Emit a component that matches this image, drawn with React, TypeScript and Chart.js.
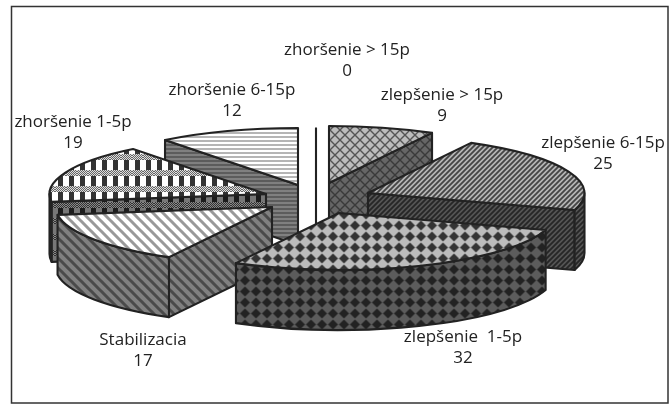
import React, { useEffect, useRef } from "react";
import { Chart, registerables } from "chart.js";

Chart.register(...registerables);

const categories = [
  "zhoršenie > 15p",
  "zlepšenie > 15p",
  "zlepšenie 6-15p",
  "zlepšenie  1-5p",
  "Stabilizacia",
  "zhoršenie 1-5p",
  "zhoršenie 6-15p",
];
const values = [0, 9, 25, 32, 17, 19, 12];

// Presentation only
const explodeDx = [-19, -6, 33, 4, -63, -69, -37];
const explodeDy = [-18, -19.5, -9.5, 10.5, 4.5, -8.5, -17.5];
const labelX = [347, 442, 603, 463, 143, 73, 232];
const labelY = [50, 95, 143, 337, 340, 122, 90];
const paintOrder = [6, 0, 1, 2, 5, 4, 3];

const RX = 216.5;
const RY = 57;
const DEPTH = 60;
const INK = "#222";

function tile(w: number, h: number, draw: (c: CanvasRenderingContext2D) => void, dx = 0, dy = 0) {
  const cv = document.createElement("canvas");
  cv.width = w;
  cv.height = h;
  const c = cv.getContext("2d")!;
  draw(c);
  const p = document.createElement("canvas").getContext("2d")!.createPattern(cv, "repeat")!;
  if (dx || dy) p.setTransform(new DOMMatrix().translate(dx, dy));
  return p;
}

function lattice(bg: string, fg: string) {
  return tile(10, 10, (c) => {
    c.fillStyle = bg;
    c.fillRect(0, 0, 10, 10);
    c.strokeStyle = fg;
    c.lineWidth = 1.4;
    c.beginPath();
    c.moveTo(-1, -1); c.lineTo(11, 11);
    c.moveTo(11, -1); c.lineTo(-1, 11);
    c.stroke();
  });
}
function stripes(size: number, width: number, bg: string, fg: string, forward: boolean) {
  return tile(size, size, (c) => {
    c.fillStyle = bg;
    c.fillRect(0, 0, size, size);
    c.strokeStyle = fg;
    c.lineWidth = width;
    c.beginPath();
    for (let k = -1; k <= 1; k++) {
      if (forward) {
        c.moveTo(k * size - 1, size + 1);
        c.lineTo(k * size + size + 1, -1);
      } else {
        c.moveTo(k * size - 1, -1);
        c.lineTo(k * size + size + 1, size + 1);
      }
    }
    c.stroke();
  });
}
function diamonds(bg: string, fg: string) {
  return tile(11, 11, (c) => {
    c.fillStyle = bg;
    c.fillRect(0, 0, 11, 11);
    c.fillStyle = fg;
    c.beginPath();
    c.moveTo(5.5, 0.5); c.lineTo(10.5, 5.5); c.lineTo(5.5, 10.5); c.lineTo(0.5, 5.5);
    c.closePath();
    c.fill();
  }, -2.5, 0);
}
function plaid(a: string, b: string, c1: string, c2: string) {
  return tile(11, 16, (c) => {
    c.fillStyle = a;
    c.fillRect(0, 0, 11, 16);
    c.fillStyle = b;
    c.fillRect(3, 0, 5, 16);
    for (let y = 10; y < 16; y++) {
      for (let x = 0; x < 11; x++) {
        c.fillStyle = (x + y) % 2 ? c1 : c2;
        c.fillRect(x, y, 1, 1);
      }
    }
  });
}
function hlines(bg: string, fg: string) {
  return tile(4, 4, (c) => {
    c.fillStyle = bg;
    c.fillRect(0, 0, 4, 4);
    c.fillStyle = fg;
    c.fillRect(0, 0, 4, 2);
  });
}

const pie3d = {
  id: "pie3d",
  beforeDraw(chart: any) {
    const c = chart.ctx as CanvasRenderingContext2D;
    c.save();
    c.fillStyle = "#fff";
    c.fillRect(0, 0, chart.width, chart.height);
    c.strokeStyle = "#333";
    c.lineWidth = 1.5;
    c.strokeRect(11.5, 6.5, 656.5, 396.5);
    c.restore();
  },
  afterDatasetsDraw(chart: any) {
    const c = chart.ctx as CanvasRenderingContext2D;
    const arcs = chart.getDatasetMeta(0).data;
    const topFill: any[] = [
      "#fff",
      lattice("#bdbdbd", "#555"),
      stripes(5, 1.8, "#b5b5b5", "#444", true),
      diamonds("#bcbcbc", "#333"),
      stripes(10, 3, "#fff", "#999", false),
      plaid("#fff", "#333", "#666", "#ddd"),
      hlines("#fff", "#b5b5b5"),
    ];
    const sideFill: any[] = [
      "#fff",
      lattice("#666", "#3a3a3a"),
      stripes(5, 1.8, "#555", "#262626", true),
      diamonds("#5c5c5c", "#222"),
      stripes(10, 3, "#808080", "#4a4a4a", false),
      plaid("#777", "#1c1c1c", "#333", "#888"),
      hlines("#808080", "#5c5c5c"),
    ];
    c.save();
    c.lineJoin = "round";
    c.strokeStyle = INK;
    c.lineWidth = 2.1;
    for (const i of paintOrder) {
      const a = arcs[i];
      const cx = a.x + explodeDx[i];
      const cy = a.y + explodeDy[i];
      const s = a.startAngle as number;
      const e = a.endAngle as number;
      const px = (t: number) => cx + RX * Math.cos(t);
      const py = (t: number) => cy + RY * Math.sin(t);
      const paint = (fill: any) => {
        c.fillStyle = fill;
        c.fill();
        c.stroke();
      };
      const radialWall = (t: number) => {
        c.beginPath();
        c.moveTo(cx, cy);
        c.lineTo(px(t), py(t));
        c.lineTo(px(t), py(t) + DEPTH);
        c.lineTo(cx, cy + DEPTH);
        c.closePath();
        paint(sideFill[i]);
      };
      if (e - s < 1e-6) {
        c.beginPath();
        c.moveTo(px(s), py(s));
        c.lineTo(cx, cy);
        c.lineTo(cx, cy + DEPTH);
        c.stroke();
        continue;
      }
      // radial walls turned to the viewer
      const cosStart = Math.cos(s);
      if (cosStart < -1e-6) radialWall(s);
      if (Math.cos(e) > 1e-6) radialWall(e);
      // outer rim, front half only
      const t0 = Math.max(s, 0);
      const t1 = Math.min(e, Math.PI);
      if (t1 > t0) {
        c.beginPath();
        c.ellipse(cx, cy, RX, RY, 0, t0, t1);
        c.lineTo(px(t1), py(t1) + DEPTH);
        c.ellipse(cx, cy + DEPTH, RX, RY, 0, t1, t0, true);
        c.closePath();
        paint(sideFill[i]);
      }
      // top face
      c.beginPath();
      c.moveTo(cx, cy);
      c.ellipse(cx, cy, RX, RY, 0, s, e);
      c.closePath();
      paint(topFill[i]);
    }
    c.fillStyle = "#222";
    c.font = '17px "Open Sans"';
    c.textAlign = "center";
    c.textBaseline = "middle";
    categories.forEach((name, i) => {
      c.fillText(name, labelX[i], labelY[i]);
      c.fillText(String(values[i]), labelX[i], labelY[i] + 21);
    });
    c.restore();
  },
};

export default function App() {
  const ref = useRef<HTMLCanvasElement | null>(null);
  useEffect(() => {
    const chart = new Chart(ref.current!, {
      type: "pie",
      data: {
        labels: categories,
        datasets: [
          { data: values, backgroundColor: "rgba(0,0,0,0)", borderWidth: 0 },
        ],
      },
      options: {
        responsive: false,
        animation: false,
        layout: { padding: 0 },
        plugins: { legend: { display: false }, tooltip: { enabled: false } },
      },
      plugins: [pie3d],
    } as any);
    return () => chart.destroy();
  }, []);
  return (
    <div style={{ position: "absolute", left: 0, top: 0, width: 670, height: 405 }}>
      <canvas ref={ref} width={670} height={405} style={{ display: "block" }} />
    </div>
  );
}
